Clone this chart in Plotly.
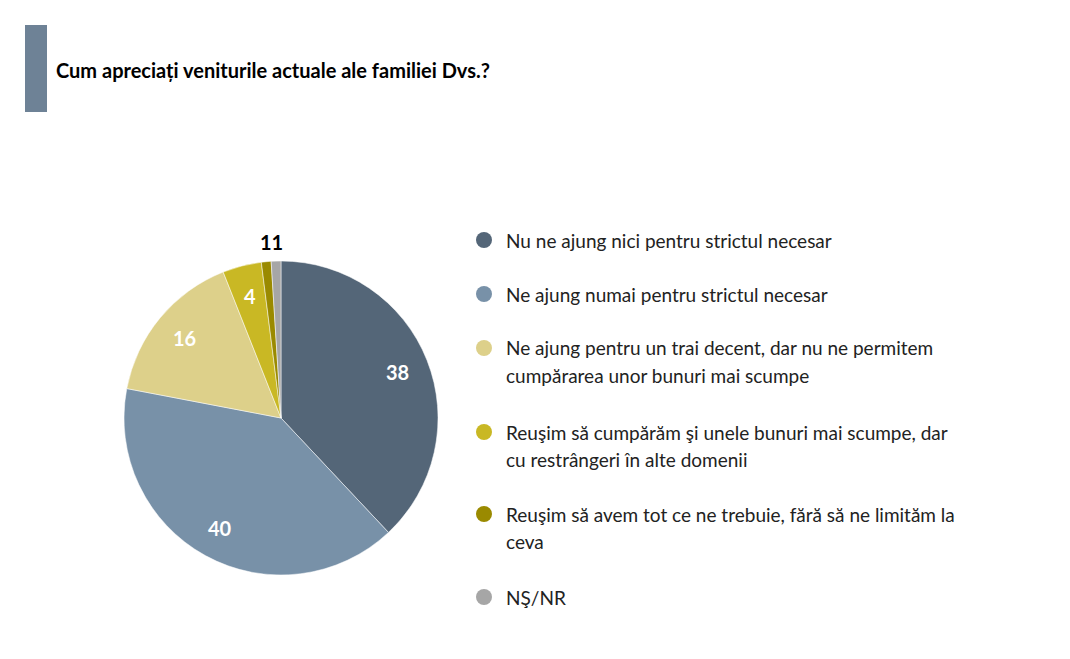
import math
import plotly.graph_objects as go

# Date din grafic
categorii = [
    "Nu ne ajung nici pentru strictul necesar",
    "Ne ajung numai pentru strictul necesar",
    "Ne ajung pentru un trai decent, dar nu ne permitem<br>cumpărarea unor bunuri mai scumpe",
    "Reuşim să cumpărăm şi unele bunuri mai scumpe, dar<br>cu restrângeri în alte domenii",
    "Reuşim să avem tot ce ne trebuie, fără să ne limităm la<br>ceva",
    "NŞ/NR",
]
valori = [38, 40, 16, 4, 1, 1]
culori = ["#546678", "#7891A8", "#DDD08A", "#C9B824", "#9A8A00", "#A6A6A6"]

# pagina are marginea implicită de 8px a browserului
OFF = 8
W, H = 1070 - 2 * OFF, 659 - 2 * OFF
FONT = "Lato"


def px(x):
    return (x - OFF) / W


def py(y):
    return 1 - (y - OFF) / H


# centrul și raza plăcintei (în pixeli de pagină)
CX, CY, R = 281, 418, 157

fig = go.Figure()
fig.add_trace(go.Pie(
    values=valori,
    labels=categorii,
    textinfo="none",
    marker=dict(colors=culori, line=dict(color="white", width=0.5)),
    sort=False,
    direction="clockwise",
    rotation=0,
    showlegend=False,
    hoverinfo="label+value",
    domain=dict(x=[px(CX - R), px(CX + R)], y=[py(CY + R), py(CY - R)]),
))

# etichetele felii mari, la 0.8 din rază, ca în original
total = sum(valori)
cum = 0
for v in valori:
    mijloc = (cum + v / 2) / total * 2 * math.pi
    cum += v
    if v <= 2:
        continue
    fig.add_annotation(text="<b>%d</b>" % v, xref="paper", yref="paper",
                       x=px(CX + 0.8 * R * math.sin(mijloc)),
                       y=py(CY - 0.8 * R * math.cos(mijloc)),
                       xanchor="center", yanchor="middle", showarrow=False,
                       font=dict(family=FONT, size=20, color="white"))

# etichetele felii mici (1, 1) scrise deasupra
fig.add_annotation(text="<b>" + "".join(str(v) for v in valori if v <= 2) + "</b>",
                   xref="paper", yref="paper", x=px(271), y=py(242),
                   xanchor="center", yanchor="middle", showarrow=False,
                   font=dict(family=FONT, size=20, color="black"))

# bara laterală a titlului
fig.add_shape(type="rect", xref="paper", yref="paper",
              x0=px(25), x1=px(47), y0=py(112), y1=py(25),
              fillcolor="#6E8296", line=dict(width=0))

fig.add_annotation(text="<b>Cum apreciați veniturile actuale ale familiei Dvs.?</b>",
                   xref="paper", yref="paper", x=px(54), y=py(70),
                   xanchor="left", yanchor="middle", showarrow=False,
                   font=dict(family=FONT, size=20, color="black"))

# legenda construită manual
legenda_y = [240, 294, 348, 432, 514, 597]
for cat, cul, yy in zip(categorii, culori, legenda_y):
    fig.add_shape(type="circle", xref="paper", yref="paper",
                  x0=px(484 - 8), x1=px(484 + 8),
                  y0=py(yy + 8), y1=py(yy - 8),
                  fillcolor=cul, line=dict(width=0))
    for i, rand in enumerate(cat.split("<br>")):
        fig.add_annotation(text=rand, xref="paper", yref="paper",
                           x=px(504), y=py(yy + 27 * i),
                           xanchor="left", yanchor="middle", align="left",
                           showarrow=False,
                           font=dict(family=FONT, size=19, color="#222222"))

fig.update_layout(
    width=W, height=H,
    margin=dict(l=0, r=0, t=0, b=0),
    paper_bgcolor="white",
    plot_bgcolor="white",
)

fig.write_html("out.html")
